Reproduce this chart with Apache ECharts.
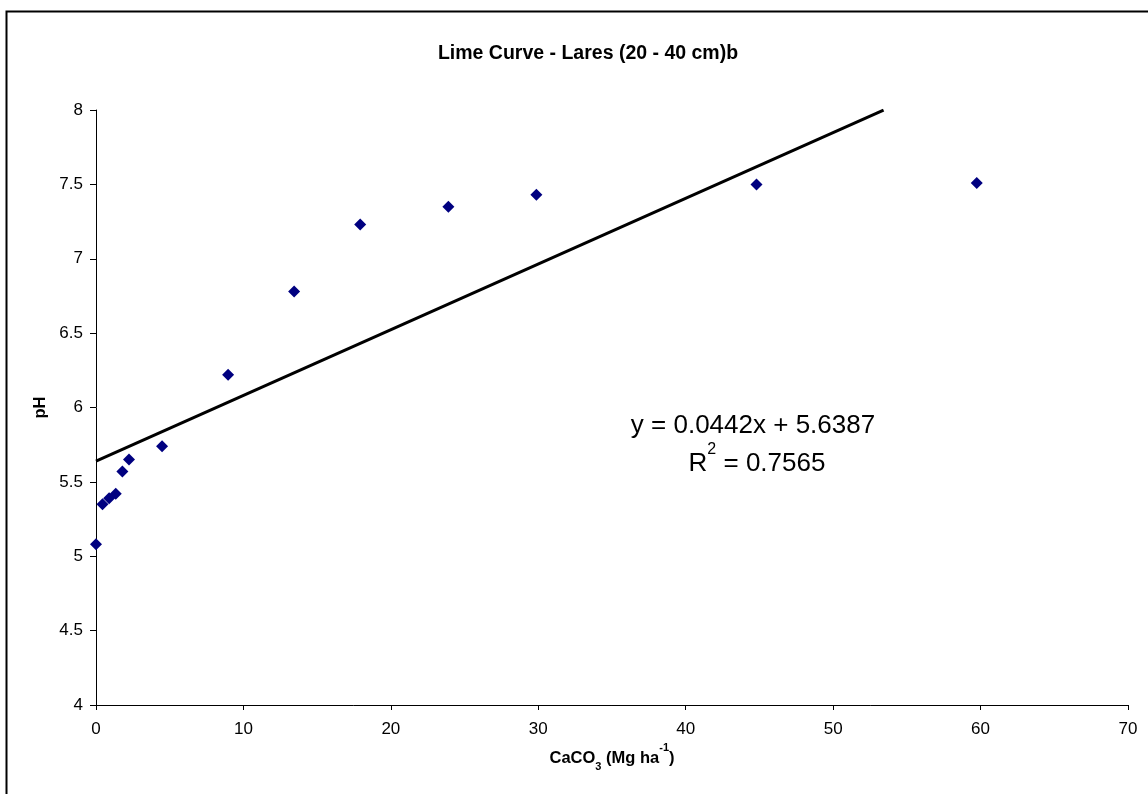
<!DOCTYPE html>
<html><head><meta charset="utf-8">
<script src="https://cdn.jsdelivr.net/npm/echarts@6/dist/echarts.min.js"></script>
<style>html,body{margin:0;padding:0;background:#fff}#c{width:1148px;height:794px}</style>
</head><body><div id="c"></div>
<script>
const limeX = [0, 0.44, 0.89, 1.34, 1.79, 2.24, 4.48, 8.96, 13.44, 17.92, 23.9, 29.87, 44.8, 59.74];
const phY = [5.08, 5.35, 5.39, 5.42, 5.57, 5.65, 5.74, 6.22, 6.78, 7.23, 7.35, 7.43, 7.50, 7.51];
const slope = 0.0442, intercept = 5.6387;
const trendX = [0, 53.42];
const xTicks = [0, 10, 20, 30, 40, 50, 60, 70];
const yTicks = [4, 4.5, 5, 5.5, 6, 6.5, 7, 7.5, 8];

const chart = echarts.init(document.getElementById('c'));
const font = 'Arial, "Liberation Sans", sans-serif';
chart.setOption({
  animation: false,
  title: {
    text: 'Lime Curve - Lares (20 - 40 cm)b',
    left: 583, top: 39, textAlign: 'center',
    textStyle: {fontFamily: font, fontSize: 19.5, fontWeight: 'bold', color: '#000'}
  },
  grid: {left: 96, right: 20, top: 110, bottom: 89},
  xAxis: {
    type: 'value', min: 0, max: 70, interval: 10,
    axisLine: {lineStyle: {color: '#000', width: 1}},
    axisTick: {inside: false, length: 5, lineStyle: {color: '#000'}},
    axisLabel: {fontFamily: font, fontSize: 17, color: '#000', margin: 16},
    splitLine: {show: false},
    name: '{a|CaCO}{sub|3}{a| (Mg ha}{sup|-1}{a|)}',
    nameLocation: 'middle', nameGap: 42,
    nameTextStyle: {
      rich: {
        a: {fontFamily: font, fontSize: 16.5, fontWeight: 'bold', color: '#000'},
        sub: {fontFamily: font, fontSize: 11, fontWeight: 'bold', color: '#000', verticalAlign: 'bottom', padding: [0,0,-6,0]},
        sup: {fontFamily: font, fontSize: 11, fontWeight: 'bold', color: '#000', verticalAlign: 'top', padding: [-7,0,0,0]}
      }
    }
  },
  yAxis: {
    type: 'value', min: 4, max: 8, interval: 0.5,
    axisLine: {show: true, lineStyle: {color: '#000', width: 1}},
    axisTick: {show: true, length: 6, lineStyle: {color: '#000'}},
    axisLabel: {fontFamily: font, fontSize: 17, color: '#000', margin: 13},
    splitLine: {show: false},
    name: 'pH', nameLocation: 'middle', nameGap: 46, nameRotate: 90,
    nameTextStyle: {fontFamily: font, fontSize: 16.5, fontWeight: 'bold', color: '#000'}
  },
  graphic: [
    {type: 'rect', left: 4, top: 9, z: -1, silent: true,
     shape: {x: 0, y: 0, width: 1200, height: 900},
     style: {fill: 'none', stroke: '#000', lineWidth: 2}},
    {type: 'text', x: 753, y: 426, silent: true,
     style: {text: 'y = 0.0442x + 5.6387', fontFamily: font, fontSize: 26, fill: '#000',
       textAlign: 'center', textVerticalAlign: 'middle'}},
    {type: 'text', x: 757, y: 464, silent: true,
     style: {text: '{a|R}{s|2}{a| = 0.7565}', fontFamily: font, fontSize: 26, fill: '#000',
       textAlign: 'center', textVerticalAlign: 'middle',
       rich: {a: {fontFamily: font, fontSize: 26, fill: '#000'},
              s: {fontFamily: font, fontSize: 16, fill: '#000', verticalAlign: 'top', padding: [-9,0,0,0]}}}}
  ],
  series: [
    {type: 'line', data: trendX.map(x => [x, slope * x + intercept]),
     showSymbol: false, symbol: 'none', lineStyle: {color: '#000', width: 3}, z: 1},
    {type: 'scatter', data: limeX.map((x, i) => [x, phY[i]]),
     symbol: 'diamond', symbolSize: 12, itemStyle: {color: '#000080', opacity: 1}, z: 2}
  ]
});
</script></body></html>
